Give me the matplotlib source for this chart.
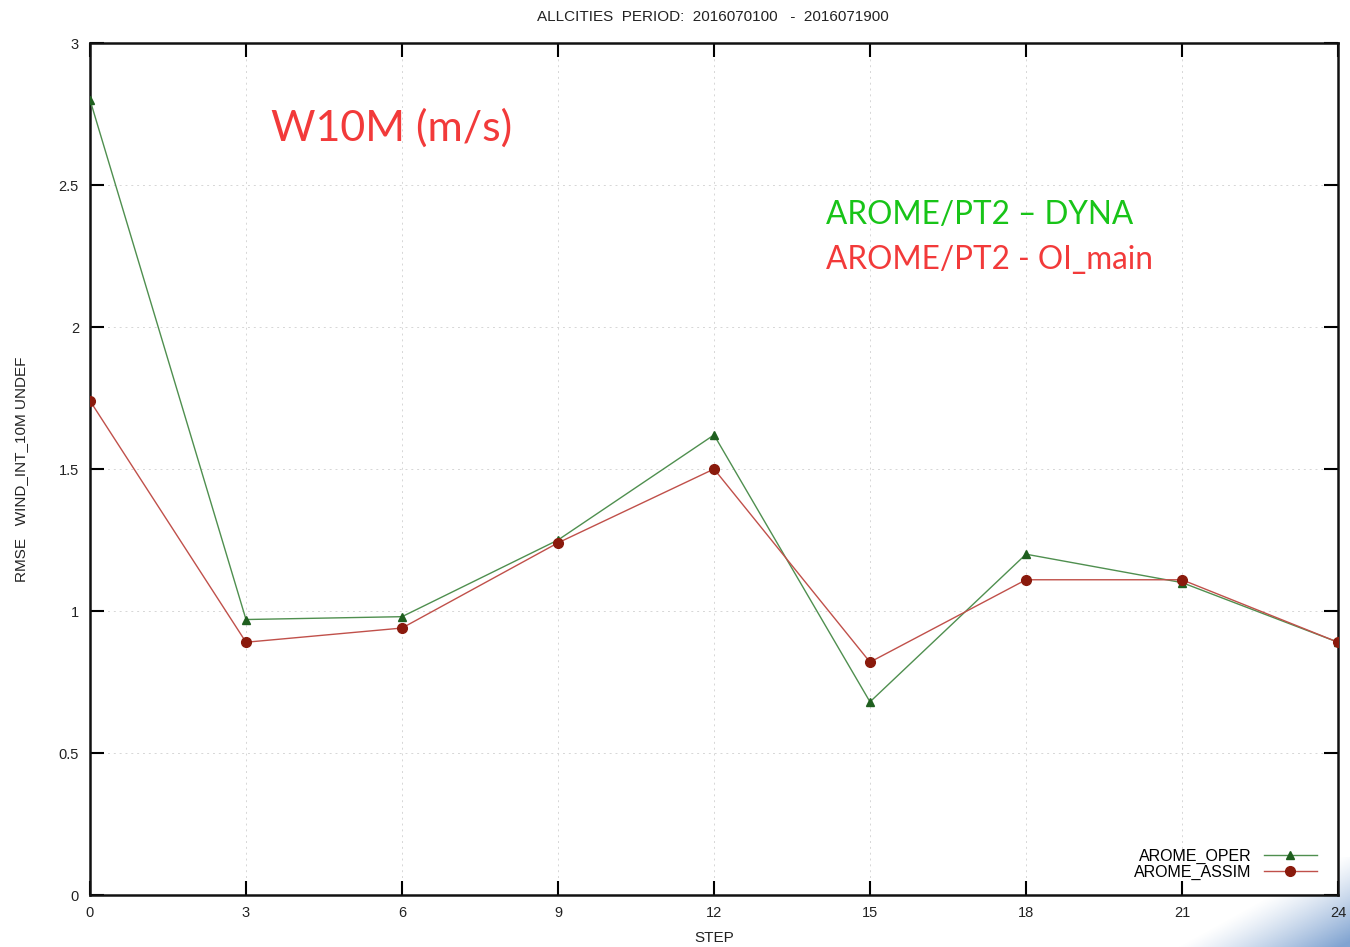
import numpy as np
import matplotlib
matplotlib.use("Agg")
import matplotlib.pyplot as plt

# data
steps = [0, 3, 6, 9, 12, 15, 18, 21, 24]
rmse_oper = [2.80, 0.97, 0.98, 1.25, 1.62, 0.68, 1.20, 1.10, 0.89]
rmse_assim = [1.74, 0.89, 0.94, 1.24, 1.50, 0.82, 1.11, 1.11, 0.89]
series_labels = ["AROME_OPER", "AROME_ASSIM"]

plt.rcParams["font.family"] = ["Liberation Sans", "DejaVu Sans"]

fig = plt.figure(figsize=(13.5, 9.47), dpi=100)
ax = fig.add_axes([90 / 1350, 52 / 947, 1248 / 1350, 852 / 947])

ax.plot(steps, rmse_oper, color="#4f8f4f", lw=1.0, marker="^", ms=6,
        mfc="#1f5f1f", mec="#1f5f1f", label=series_labels[0], zorder=3)
ax.plot(steps, rmse_assim, color="#c0504a", lw=1.0, marker="o", ms=7,
        mfc="#8a1a0c", mec="#8a1a0c", label=series_labels[1], zorder=3)

ax.set_xlim(0, 24)
ax.set_ylim(0, 3)
ax.set_xticks(steps)
ax.set_yticks([0, 0.5, 1, 1.5, 2, 2.5, 3])
ax.set_yticklabels(["0", "0.5", "1", "1.5", "2", "2.5", "3"])
ax.tick_params(direction="in", length=10, width=1.5, top=True, right=True,
               labelsize=10.5, colors="black", labelcolor="#222222", pad=8)
ax.grid(True, color="#d6d6d6", ls=(0, (2, 4)), lw=0.7)
for sp in ax.spines.values():
    sp.set_linewidth(1.8)
    sp.set_color("#111111")

ax.set_xlabel("STEP", fontsize=11, color="#222222", labelpad=8)
ax.set_ylabel("RMSE   WIND_INT_10M UNDEF", fontsize=11, color="#222222", labelpad=22)
fig.text(0.528, 0.982, "ALLCITIES  PERIOD:  2016070100   -  2016071900",
         ha="center", va="center", fontsize=11, color="#222222")

ax.legend(loc="lower right", bbox_to_anchor=(0.992, 0.005), markerfirst=False,
          frameon=False, fontsize=11.5, handlelength=3.3, labelspacing=0.05,
          handletextpad=0.8, borderaxespad=0.3)

lato = ["Lato", "DejaVu Sans"]
fig.text(271 / 1350, 1 - 128 / 947, "W10M (m/s)", fontsize=31, color="#f23a3a",
         family=lato, va="center", ha="left")
fig.text(826 / 1350, 1 - 215 / 947, "AROME/PT2 \u2013 DYNA", fontsize=22.7,
         color="#18c418", family=lato, va="center", ha="left")
fig.text(826 / 1350, 1 - 260 / 947, "AROME/PT2 - OI_main", fontsize=22.7,
         color="#f23a3a", family=lato, va="center", ha="left")

# slide corner shading (decoration, bottom right)
cax = fig.add_axes([1150 / 1350, 0, 200 / 1350, 90 / 947])
gx, gy = np.meshgrid(np.linspace(0, 1, 200), np.linspace(0, 1, 90))
alpha = np.clip(gx * 1.1 + gy * 0.9 - 1.05, 0, 1)
alpha = np.clip(alpha / 0.9, 0, 1) ** 1.2
img = np.zeros((90, 200, 4))
img[..., 0] = 0.45
img[..., 1] = 0.60
img[..., 2] = 0.80
img[..., 3] = alpha * 0.9
cax.imshow(img, aspect="auto", origin="upper")
cax.set_axis_off()
cax.set_zorder(-1)

fig.savefig("out.png", dpi=100)
